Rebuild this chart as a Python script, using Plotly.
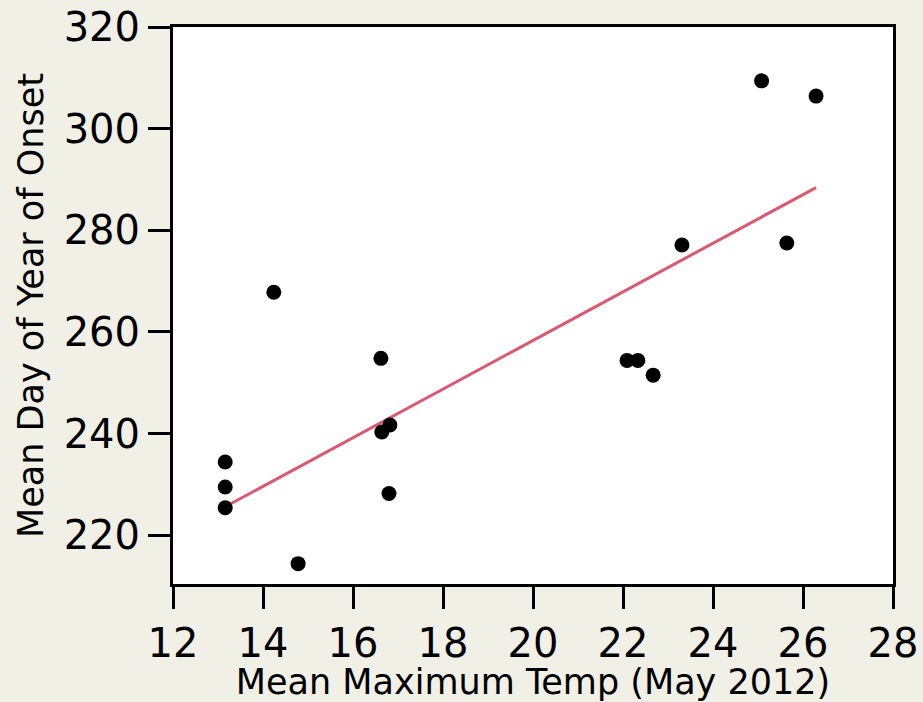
import plotly.graph_objects as go

# Mean maximum May temperature vs. mean day-of-year of onset
temp_may = [13.16, 13.16, 13.16, 14.78, 16.64, 16.82, 16.80, 14.24,
            16.62, 22.09, 22.33, 22.67, 23.31, 25.08, 26.29, 25.64]
onset_doy = [234.4, 229.5, 225.4, 214.4, 240.3, 241.7, 228.2, 267.8,
             254.8, 254.4, 254.4, 251.5, 277.1, 309.4, 306.4, 277.5]

# Linear fit endpoints
fit_x = [13.16, 26.29]
fit_y = [225.6, 288.4]

x_ticks = [12, 14, 16, 18, 20, 22, 24, 26, 28]
y_ticks = [220, 240, 260, 280, 300, 320]

FONT = "DejaVu Sans"
BG = "#f0f0e6"

fig = go.Figure()
fig.add_trace(go.Scatter(
    x=fit_x, y=fit_y, mode="lines",
    line=dict(color="#dc5870", width=3),
    showlegend=False, hoverinfo="skip",
))
fig.add_trace(go.Scatter(
    x=temp_may, y=onset_doy, mode="markers",
    marker=dict(color="black", size=15),
    showlegend=False,
))

axis_common = dict(
    showgrid=False, zeroline=False, automargin=False,
    showline=True, linecolor="black", linewidth=3, mirror=True,
    ticks="outside", ticklen=22, tickwidth=3, tickcolor="black",
    tickfont=dict(family=FONT, size=40, color="black"),
)

fig.update_layout(
    width=923, height=702,
    paper_bgcolor=BG, plot_bgcolor="white",
    margin=dict(l=173, r=30, t=27, b=118),
    xaxis=dict(
        range=[12, 28], tickvals=x_ticks,
        title=dict(text="Mean Maximum Temp (May 2012)",
                   font=dict(family=FONT, size=35, color="black"), standoff=6),
        **axis_common,
    ),
    yaxis=dict(
        range=[210.4, 320], tickvals=y_ticks,
        title=dict(text="Mean Day of Year of Onset",
                   font=dict(family=FONT, size=35, color="black"), standoff=10),
        **axis_common,
    ),
)

fig.write_html("out.html")
